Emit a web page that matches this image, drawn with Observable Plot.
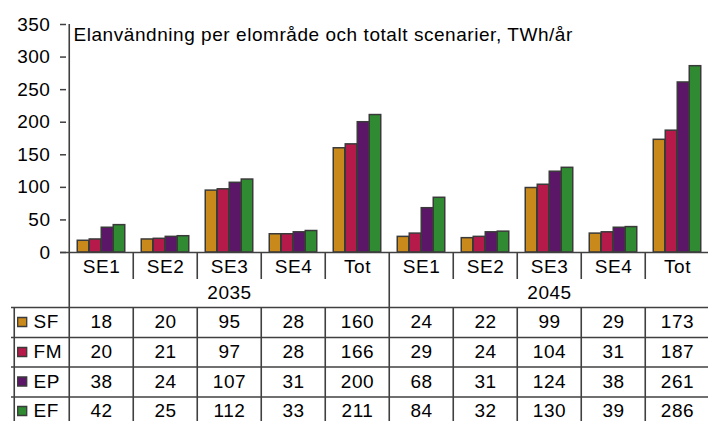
<!DOCTYPE html>
<html>
<head>
<meta charset="utf-8">
<script src="https://cdn.jsdelivr.net/npm/d3@7"></script>
<script src="https://cdn.jsdelivr.net/npm/@observablehq/plot@0.6"></script>
<style>
  html, body { margin: 0; padding: 0; background: #fff; }
  #chart svg { display: block; }
  #chart svg text { letter-spacing: 0.55px; }
</style>
</head>
<body>
<div id="chart"></div>
<script>
// ---- data ----
const title = "Elanvändning per elområde och totalt scenarier, TWh/år";
const years = ["2035", "2045"];
const regions = ["SE1", "SE2", "SE3", "SE4", "Tot"];
const seriesNames = ["SF", "FM", "EP", "EF"];
const SF = [18, 20, 95, 28, 160, 24, 22, 99, 29, 173];
const FM = [20, 21, 97, 28, 166, 29, 24, 104, 31, 187];
const EP = [38, 24, 107, 31, 200, 68, 31, 124, 38, 261];
const EF = [42, 25, 112, 33, 211, 84, 32, 130, 39, 286];
const colors = ["#c98a1b", "#b51a4a", "#5c1668", "#2f8a32"];
const yTicks = [0, 50, 100, 150, 200, 250, 300, 350];

// ---- derived tables ----
const seriesValues = { SF, FM, EP, EF };
const keys = years.flatMap(y => regions.map(r => y + " " + r));
const cells = s => keys.map((k, j) => ({ key: k, value: seriesValues[s][j] }));

// ---- layout ----
const W = 708, H = 421;
const mLeft = 66, xRight = 711, mTop = 24, base = 252;
const bw = (xRight - mLeft) / keys.length;
const barW = 12;
const groupPad = (bw - barW * seriesNames.length) / 2;
const legendW = 55;
const catDy = 14, yearDy = 40.5;
const catBottom = 27;
const tableTop = 55;
const rowDy = [69.5, 99.5, 129, 158.5];
const lineDy = [55, 85, 114.5, 144.5];
const lineStyle = { stroke: "#404040", strokeWidth: 1.6 };
const edge = { x: d => d, dx: -bw / 2 };
const mid = { lineAnchor: "middle" };

const midKey = "2045 SE1";
const innerKeys = keys.filter((k, i) => i > 0 && k !== midKey);

const marks = [
  ...seriesNames.map((s, i) => Plot.barY(cells(s), {
    x: "key", y: "value", fill: colors[i],
    stroke: "#3a3a3a", strokeWidth: 1.5,
    insetLeft: groupPad + i * barW,
    insetRight: bw - groupPad - (i + 1) * barW
  })),
  Plot.axisY(yTicks, { tickSize: 6, tickPadding: 10, stroke: "#404040", strokeWidth: 1.5, label: null }),
  Plot.ruleX([keys[0]], { ...edge, insetBottom: -(H - base), ...lineStyle }),
  Plot.ruleY([0], { insetLeft: -6, ...lineStyle }),
  Plot.ruleX([midKey], { ...edge, insetTop: base - mTop, insetBottom: -(H - base), ...lineStyle }),
  Plot.ruleX(innerKeys, { ...edge, insetTop: base - mTop, insetBottom: -catBottom, ...lineStyle }),
  Plot.ruleX(innerKeys, { ...edge, insetTop: base - mTop + tableTop, insetBottom: -(H - base), ...lineStyle }),
  Plot.ruleX([keys[0]], { x: d => d, dx: -bw / 2 - legendW, insetTop: base - mTop + tableTop, insetBottom: -(H - base), ...lineStyle }),
  ...lineDy.map(d => Plot.ruleY([0], { dy: d, insetLeft: -legendW, ...lineStyle })),
  Plot.text(keys, { x: d => d, text: d => d.split(" ")[1], frameAnchor: "bottom", dy: catDy, ...mid }),
  Plot.text(years, { x: y => y + " " + regions[2], text: d => d, frameAnchor: "bottom", dy: yearDy, ...mid }),
  ...seriesNames.map((s, i) => Plot.text(cells(s), { x: "key", text: d => String(d.value), frameAnchor: "bottom", dy: rowDy[i], ...mid })),
  ...seriesNames.map((s, i) => Plot.dot([s], {
    frameAnchor: "bottom-left", dx: 21.7 - mLeft, dy: rowDy[i],
    symbol: "square", r: 5.1, fill: colors[i], stroke: "#3a3a3a", strokeWidth: 1.3
  })),
  ...seriesNames.map((s, i) => Plot.text([s], {
    frameAnchor: "bottom-left", dx: 33 - mLeft, dy: rowDy[i], textAnchor: "start", text: d => d, ...mid
  })),
  Plot.text([title], { frameAnchor: "top-left", dx: 7, dy: 10.6, textAnchor: "start", text: d => d, ...mid })
];

const chart = Plot.plot({
  width: W,
  height: H,
  marginLeft: mLeft,
  marginRight: 0,
  marginTop: mTop,
  marginBottom: H - base,
  style: {
    fontFamily: "'Liberation Sans', Arial, sans-serif",
    fontSize: "19px",
    color: "#000",
    background: "#fff",
    overflow: "visible"
  },
  x: { type: "band", domain: keys, range: [mLeft, xRight], padding: 0, axis: null },
  y: { domain: [0, 350], range: [base, mTop], axis: null },
  marks
});

document.getElementById("chart").appendChild(chart);
</script>
</body>
</html>
